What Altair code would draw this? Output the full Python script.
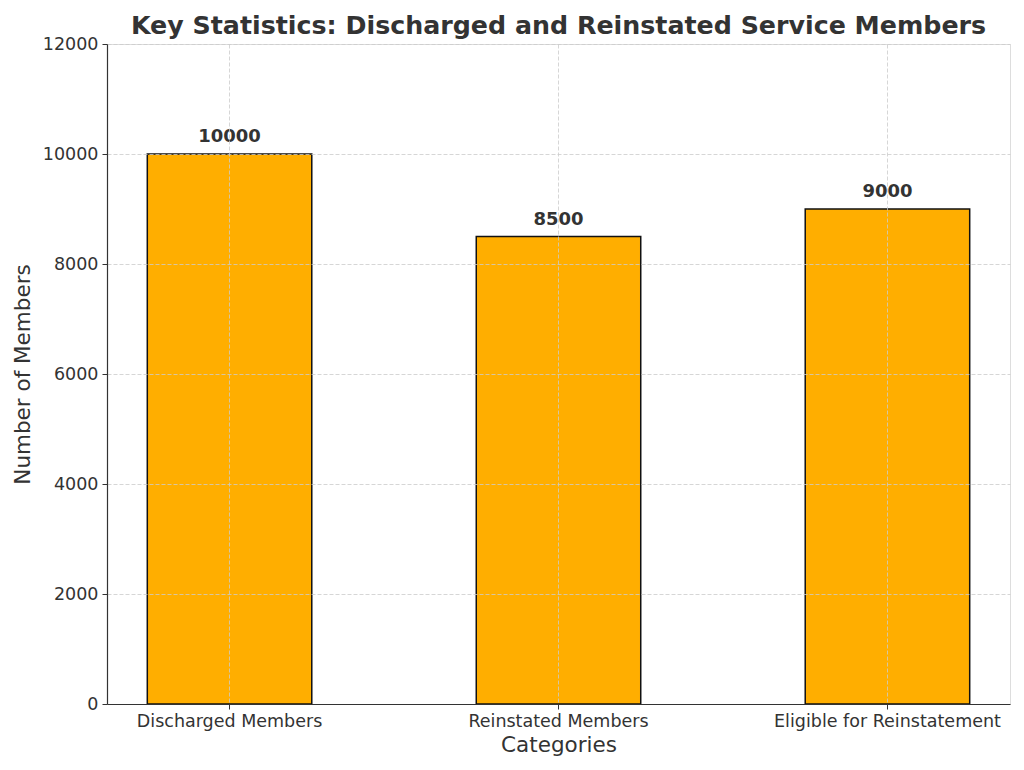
import altair as alt
import pandas as pd

categories = ["Discharged Members", "Reinstated Members", "Eligible for Reinstatement"]
values = [10000, 8500, 9000]

df = pd.DataFrame({"category": categories, "value": values})

FONT = "DejaVu Sans"
TXT = "#333333"

x = alt.X(
    "category:N",
    sort=categories,
    scale=alt.Scale(paddingInner=0.5, paddingOuter=0.1225),
    axis=alt.Axis(
        title="Categories", labelAngle=0, bandPosition=0.5, labelLimit=0,
        grid=True, gridDash=[4, 2], gridColor="#cccccc", gridWidth=0.8,
        tickSize=5, tickColor=TXT, domainColor=TXT, domainWidth=1.2,
        labelFontSize=17.5, labelColor=TXT, labelFont=FONT, labelPadding=3,
        titleFontSize=21.5, titleFontWeight="normal", titleColor=TXT, titleFont=FONT,
        titlePadding=5, zindex=1,
    ),
)
y = alt.Y(
    "value:Q",
    scale=alt.Scale(domain=[0, 12000], nice=False),
    axis=alt.Axis(
        title="Number of Members", values=[0, 2000, 4000, 6000, 8000, 10000, 12000], format="d",
        grid=True, gridDash=[4, 2], gridColor="#cccccc", gridWidth=0.8,
        tickSize=5, tickColor=TXT, domainColor=TXT, domainWidth=1.2,
        labelFontSize=17.5, labelColor=TXT, labelFont=FONT, labelPadding=4,
        titleFontSize=21.5, titleFontWeight="normal", titleColor=TXT, titleFont=FONT,
        titlePadding=8, zindex=1,
    ),
)

bars = alt.Chart(df).mark_bar(color="#FFAE00", stroke="#111111", strokeWidth=1.5).encode(x=x, y=y)
labels = alt.Chart(df).mark_text(
    font=FONT, fontSize=18, fontWeight="bold", color=TXT, baseline="bottom", dy=-8
).encode(x=alt.X("category:N", sort=categories), y="value:Q", text="value:Q")

chart = alt.layer(bars, labels).properties(
    width=903, height=660,
    title=alt.TitleParams(
        "Key Statistics: Discharged and Reinstated Service Members",
        font=FONT, fontSize=25.3, fontWeight="bold", color=TXT, anchor="middle", offset=8, dy=12,
    ),
    autosize=alt.AutoSizeParams(type="none"),
    padding={"left": 99, "top": 36, "right": 6, "bottom": 58},
).configure_view(stroke=None).configure(background="white")

chart.save("out.html", embed_options={"renderer": "svg", "actions": False})
